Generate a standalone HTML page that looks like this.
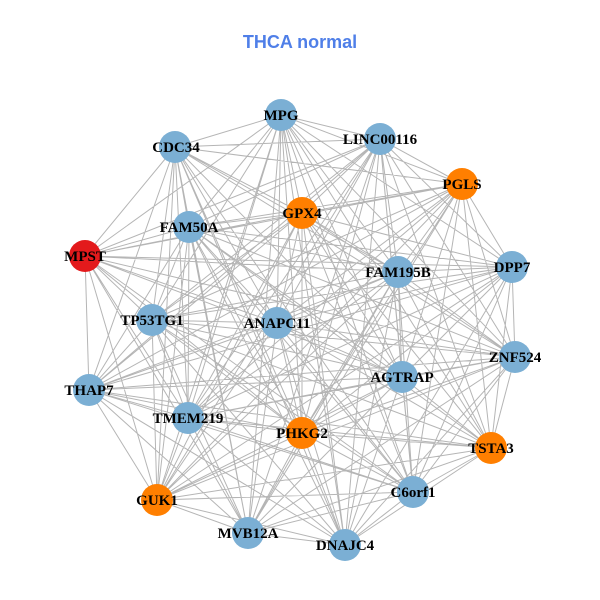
<!DOCTYPE html>
<html><head><meta charset="utf-8"><style>
html,body{margin:0;padding:0;background:#fff;width:600px;height:600px;overflow:hidden}
svg text{font-family:"Liberation Serif",serif;font-weight:bold;font-size:15px;fill:#000;text-anchor:middle}
</style></head><body>
<svg width="600" height="600" xmlns="http://www.w3.org/2000/svg">
<rect width="600" height="600" fill="#fff"/>
<text x="300" y="48" style="font-family:'Liberation Sans',sans-serif;font-size:18px;fill:#4f7fe8">THCA normal</text>
<path fill="none" stroke="#b5b5b5" stroke-width="1" d="
M281 115L380 139M281 115L175 147M281 115L462 184M281 115L302 213M281 115L189 227M281 115L85 256M281 115L512 267M281 115L398 272M281 115L152 320M281 115L277 323M281 115L515 357M281 115L402 377M281 115L188 418M281 115L302 433M281 115L491 448M281 115L157 500M281 115L413 492M281 115L248 533M281 115L345 545
M380 139L175 147M380 139L462 184M380 139L302 213M380 139L189 227M380 139L85 256M380 139L512 267M380 139L398 272M380 139L152 320M380 139L277 323M380 139L515 357M380 139L402 377M380 139L89 390M380 139L188 418M380 139L302 433M380 139L491 448M380 139L157 500M380 139L413 492M380 139L248 533M380 139L345 545
M175 147L462 184M175 147L302 213M175 147L189 227M175 147L85 256M175 147L398 272M175 147L152 320M175 147L277 323M175 147L515 357M175 147L402 377M175 147L89 390M175 147L188 418M175 147L302 433M175 147L157 500M175 147L413 492M175 147L248 533M175 147L345 545
M462 184L302 213M462 184L189 227M462 184L85 256M462 184L512 267M462 184L398 272M462 184L152 320M462 184L277 323M462 184L515 357M462 184L402 377M462 184L89 390M462 184L188 418M462 184L302 433M462 184L491 448M462 184L157 500M462 184L413 492M462 184L248 533
M302 213L189 227M302 213L85 256M302 213L512 267M302 213L398 272M302 213L152 320M302 213L277 323M302 213L515 357M302 213L402 377M302 213L89 390M302 213L188 418M302 213L302 433M302 213L491 448M302 213L157 500M302 213L413 492M302 213L345 545
M189 227L85 256M189 227L512 267M189 227L398 272M189 227L152 320M189 227L277 323M189 227L515 357M189 227L402 377M189 227L89 390M189 227L188 418M189 227L302 433M189 227L491 448M189 227L157 500M189 227L413 492M189 227L248 533M189 227L345 545
M85 256L512 267M85 256L398 272M85 256L152 320M85 256L277 323M85 256L515 357M85 256L402 377M85 256L89 390M85 256L188 418M85 256L302 433M85 256L157 500M85 256L413 492M85 256L248 533
M512 267L398 272M512 267L152 320M512 267L277 323M512 267L515 357M512 267L402 377M512 267L89 390M512 267L188 418M512 267L302 433M512 267L491 448M512 267L157 500M512 267L413 492M512 267L345 545
M398 272L152 320M398 272L277 323M398 272L515 357M398 272L402 377M398 272L89 390M398 272L188 418M398 272L302 433M398 272L491 448M398 272L157 500M398 272L413 492M398 272L248 533M398 272L345 545
M152 320L277 323M152 320L515 357M152 320L402 377M152 320L89 390M152 320L188 418M152 320L302 433M152 320L491 448M152 320L157 500M152 320L413 492M152 320L248 533M152 320L345 545
M277 323L515 357M277 323L402 377M277 323L89 390M277 323L188 418M277 323L302 433M277 323L491 448M277 323L157 500M277 323L413 492M277 323L248 533M277 323L345 545
M515 357L402 377M515 357L89 390M515 357L188 418M515 357L302 433M515 357L491 448M515 357L157 500M515 357L413 492M515 357L248 533M515 357L345 545
M402 377L89 390M402 377L188 418M402 377L302 433M402 377L491 448M402 377L157 500M402 377L413 492M402 377L248 533M402 377L345 545
M89 390L188 418M89 390L302 433M89 390L491 448M89 390L157 500M89 390L413 492M89 390L248 533M89 390L345 545
M188 418L302 433M188 418L491 448M188 418L157 500M188 418L413 492M188 418L248 533M188 418L345 545
M302 433L491 448M302 433L157 500M302 433L413 492M302 433L248 533M302 433L345 545
M491 448L157 500M491 448L413 492M491 448L248 533M491 448L345 545
M157 500L413 492M157 500L248 533M157 500L345 545
M413 492L248 533M413 492L345 545
M248 533L345 545"/>
<g>
<circle cx="281" cy="115" r="16" fill="#7bafd4"/>
<circle cx="380" cy="139" r="16" fill="#7bafd4"/>
<circle cx="175" cy="147" r="16" fill="#7bafd4"/>
<circle cx="462" cy="184" r="16" fill="#ff7f00"/>
<circle cx="302" cy="213" r="16" fill="#ff7f00"/>
<circle cx="189" cy="227" r="16" fill="#7bafd4"/>
<circle cx="85" cy="256" r="16" fill="#e31a1c"/>
<circle cx="512" cy="267" r="16" fill="#7bafd4"/>
<circle cx="398" cy="272" r="16" fill="#7bafd4"/>
<circle cx="152" cy="320" r="16" fill="#7bafd4"/>
<circle cx="277" cy="323" r="16" fill="#7bafd4"/>
<circle cx="515" cy="357" r="16" fill="#7bafd4"/>
<circle cx="402" cy="377" r="16" fill="#7bafd4"/>
<circle cx="89" cy="390" r="16" fill="#7bafd4"/>
<circle cx="188" cy="418" r="16" fill="#7bafd4"/>
<circle cx="302" cy="433" r="16" fill="#ff7f00"/>
<circle cx="491" cy="448" r="16" fill="#ff7f00"/>
<circle cx="157" cy="500" r="16" fill="#ff7f00"/>
<circle cx="413" cy="492" r="16" fill="#7bafd4"/>
<circle cx="248" cy="533" r="16" fill="#7bafd4"/>
<circle cx="345" cy="545" r="16" fill="#7bafd4"/>
</g>
<g>
<text x="281" y="120">MPG</text>
<text x="380" y="144">LINC00116</text>
<text x="176" y="152">CDC34</text>
<text x="462" y="189">PGLS</text>
<text x="302" y="218">GPX4</text>
<text x="189" y="232">FAM50A</text>
<text x="85" y="261">MPST</text>
<text x="512" y="272">DPP7</text>
<text x="398" y="277">FAM195B</text>
<text x="152" y="325">TP53TG1</text>
<text x="277" y="328">ANAPC11</text>
<text x="515" y="362">ZNF524</text>
<text x="402" y="382">AGTRAP</text>
<text x="89" y="395">THAP7</text>
<text x="188" y="423">TMEM219</text>
<text x="302" y="438">PHKG2</text>
<text x="491" y="453">TSTA3</text>
<text x="157" y="505">GUK1</text>
<text x="413" y="497">C6orf1</text>
<text x="248" y="538">MVB12A</text>
<text x="345" y="550">DNAJC4</text>
</g>
</svg>
</body></html>
